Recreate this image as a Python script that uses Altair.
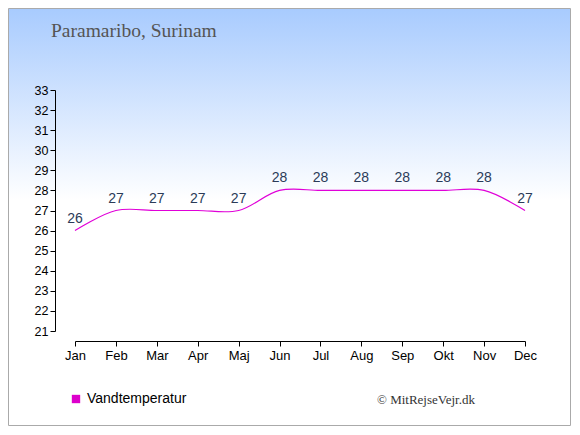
import altair as alt
import pandas as pd

months = ["Jan", "Feb", "Mar", "Apr", "Maj", "Jun", "Jul", "Aug", "Sep", "Okt", "Nov", "Dec"]
water_temp = [26, 27, 27, 27, 27, 28, 28, 28, 28, 28, 28, 27]
series_name = "Vandtemperatur"
title_text = "Paramaribo, Surinam"
credit_text = "© MitRejseVejr.dk"
y_ticks = list(range(21, 34))

df = pd.DataFrame({"month": months, "temp": water_temp, "series": series_name})

W, H = 450, 241
PL, PT, PR, PB = 67, 82, 46, 95

xenc = alt.X("month:N", sort=months, scale=alt.Scale(padding=0),
             axis=alt.Axis(title=None, labelAngle=0, offset=10, domainColor="black",
                           tickColor="black", tickSize=5, labelFontSize=13,
                           labelFont="Liberation Sans", labelColor="black",
                           labelPadding=3, grid=False, zindex=2, labelOverlap=False))
yenc = alt.Y("temp:Q", scale=alt.Scale(domain=[21, 33], nice=False, zero=False),
             axis=alt.Axis(title=None, values=y_ticks, offset=20, domainColor="black",
                           tickColor="black", tickSize=5, labelFontSize=12.5,
                           labelFont="Liberation Sans", labelColor="black",
                           labelPadding=2, grid=False, zindex=2, labelOverlap=False))

bg = alt.Chart(pd.DataFrame({"a": [0]})).mark_rect(
    fill=alt.Gradient(gradient="linear", x1=0, x2=0, y1=0, y2=1,
                      stops=[alt.GradientStop(color="#a8cbfe", offset=0),
                             alt.GradientStop(color="#ffffff", offset=0.46),
                             alt.GradientStop(color="#ffffff", offset=1)]),
    stroke="#aaaaaa", strokeWidth=1,
).encode(x=alt.value(-PL + 0.5), x2=alt.value(W + PR - 0.5),
         y=alt.value(-PT + 0.5), y2=alt.value(H + PB - 0.5))

line = alt.Chart(df).mark_line(interpolate="catmull-rom", strokeWidth=1.2).encode(
    x=xenc, y=yenc,
    color=alt.Color("series:N",
                    scale=alt.Scale(domain=[series_name], range=["#e000d8"]),
                    legend=alt.Legend(title=None, orient="none", legendX=-6, legendY=302,
                                      symbolType="square", symbolSize=70,
                                      symbolFillColor="#dd00cc", symbolStrokeWidth=0,
                                      labelFontSize=14, labelFont="Liberation Sans",
                                      labelColor="black", labelOffset=4)),
)

labels = alt.Chart(df).mark_text(dy=-8, baseline="alphabetic", fontSize=14,
                                 font="Liberation Sans", color="#2b3b58").encode(
    x=xenc, y=yenc, text="temp:Q")

title = alt.Chart(pd.DataFrame({"t": [title_text]})).mark_text(
    align="left", baseline="alphabetic", font="Liberation Serif", fontSize=19.5, color="#555555"
).encode(x=alt.value(-24), y=alt.value(-53), text="t:N")

credit = alt.Chart(pd.DataFrame({"t": [credit_text]})).mark_text(
    align="left", baseline="alphabetic", font="Liberation Serif", fontSize=13, color="#333333"
).encode(x=alt.value(302), y=alt.value(314), text="t:N")

chart = alt.layer(bg, line, labels, title, credit).properties(
    width=W, height=H,
    padding={"left": PL, "top": PT, "right": PR, "bottom": PB},
    autosize=alt.AutoSizeParams(type="none"),
    background="white",
).configure_view(stroke=None)

chart.save("out.html", embed_options={"renderer": "svg", "actions": False})
